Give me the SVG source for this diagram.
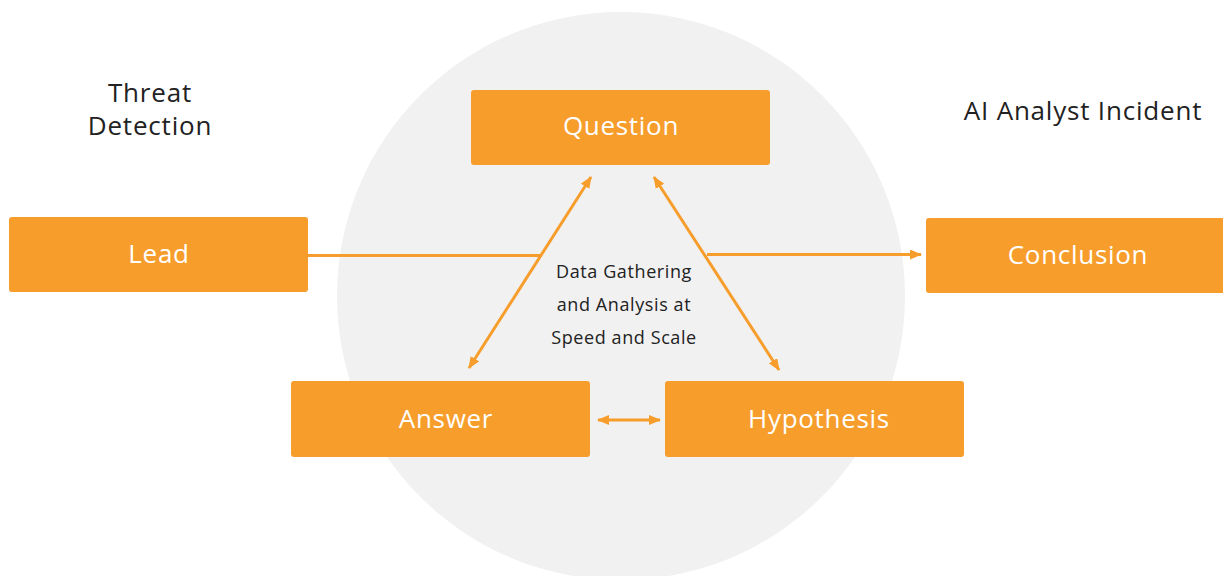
<svg xmlns="http://www.w3.org/2000/svg" width="1223" height="576" viewBox="0 0 1223 576">
<style>
.box{fill:#F79D2B;}
.lbl{font-family:"Open Sans","Noto Sans",sans-serif;font-size:26px;font-weight:500;fill:#ffffff;text-anchor:middle;letter-spacing:0.7px;}
.cap{font-family:"Open Sans","Noto Sans",sans-serif;font-size:26px;font-weight:500;fill:#222222;text-anchor:middle;letter-spacing:0.8px;}
.mid{font-family:"Open Sans","Noto Sans",sans-serif;font-size:18px;font-weight:500;fill:#222222;text-anchor:middle;letter-spacing:0.6px;}
.ln{stroke:#F79D2B;stroke-width:3;fill:none;}
</style>
<defs>
<marker id="ah" viewBox="0 0 12 10" refX="11" refY="5" markerWidth="12" markerHeight="10" markerUnits="userSpaceOnUse" orient="auto-start-reverse">
<path d="M0,0 L12,5 L0,10 Z" fill="#F79D2B"/>
</marker>
</defs>
<rect width="1223" height="576" fill="#ffffff"/>
<circle cx="621" cy="296" r="284" fill="#F1F1F1"/>
<text class="cap" x="150" y="102">Threat</text>
<text class="cap" x="150" y="135">Detection</text>
<text class="cap" x="1083" y="120">AI Analyst Incident</text>
<text class="mid" x="624" y="278">Data Gathering</text>
<text class="mid" x="624" y="311">and Analysis at</text>
<text class="mid" x="624" y="344">Speed and Scale</text>
<g id="connectors">
<line class="ln" x1="308" y1="255.5" x2="540" y2="255.5"/>
<line class="ln" x1="707" y1="254.5" x2="921" y2="254.5" marker-end="url(#ah)"/>
<line class="ln" x1="591" y1="177" x2="469" y2="368" marker-start="url(#ah)" marker-end="url(#ah)"/>
<line class="ln" x1="654" y1="177" x2="779" y2="370" marker-start="url(#ah)" marker-end="url(#ah)"/>
<line class="ln" x1="598" y1="420" x2="660" y2="420" marker-start="url(#ah)" marker-end="url(#ah)"/>
</g>
<g id="question"><rect class="box" x="471" y="90" width="299" height="75" rx="3"/><text class="lbl" x="621" y="135">Question</text></g>
<g id="lead"><rect class="box" x="9" y="217" width="299" height="75" rx="3"/><text class="lbl" x="159" y="263">Lead</text></g>
<g id="conclusion"><rect class="box" x="926" y="218" width="300" height="75" rx="3"/><text class="lbl" x="1078" y="264">Conclusion</text></g>
<g id="answer"><rect class="box" x="291" y="381" width="299" height="76" rx="3"/><text class="lbl" x="446" y="428">Answer</text></g>
<g id="hypothesis"><rect class="box" x="665" y="381" width="299" height="76" rx="3"/><text class="lbl" x="819" y="428">Hypothesis</text></g>
</svg>
